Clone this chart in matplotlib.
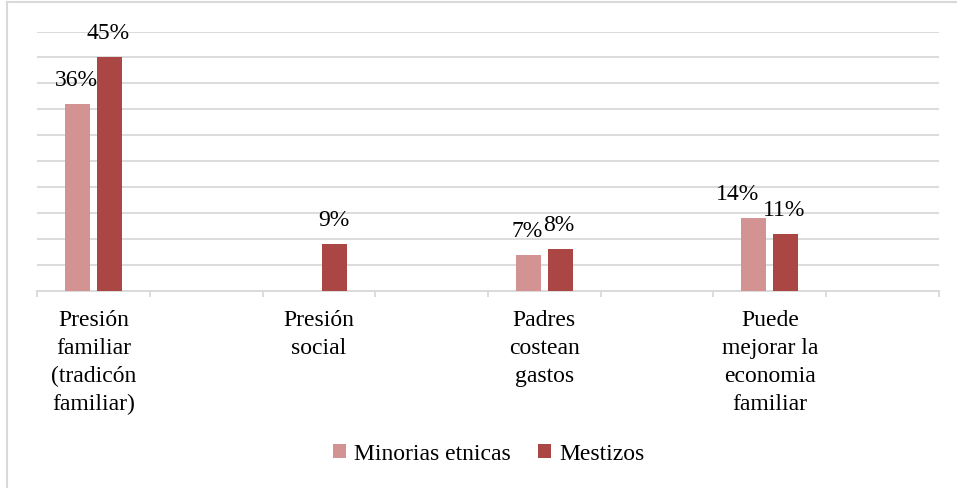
import numpy as np
import matplotlib
matplotlib.use("Agg")
import matplotlib.pyplot as plt
from matplotlib.lines import Line2D

plt.rcParams['font.family'] = ['Liberation Serif', 'DejaVu Serif']

categories = ["Presión\nfamiliar\n(tradicón\nfamiliar)", "Presión\nsocial",
              "Padres\ncostean\ngastos", "Puede\nmejorar la\neconomia\nfamiliar"]
minorias = [36, 0, 7, 14]
mestizos = [45, 9, 8, 11]
series_names = ["Minorias etnicas", "Mestizos"]
colors = ["#D39392", "#AA4644"]

fig = plt.figure(figsize=(9.57, 4.88), dpi=100)
W, H = 957, 488
ax = fig.add_axes([37 / W, 1 - 291 / H, (939 - 37) / W, (291 - 31.5) / H])

# each category takes two slots, the second one is left empty
x = np.arange(len(categories)) * 2
w = 0.22
off = 0.142

ax.bar(x - off, minorias, w, color=colors[0], label=series_names[0], zorder=3)
ax.bar(x + off, mestizos, w, color=colors[1], label=series_names[1], zorder=3)

# data labels (the 14% label sits a little to the left)
for i, v in enumerate(minorias):
    if v:
        dx = -12 if i == 3 else -1
        ax.annotate(f"{v}%", (x[i] - off, v), xytext=(dx, 17), textcoords="offset points",
                    ha="center", va="center", fontsize=17)
for i, v in enumerate(mestizos):
    if v:
        ax.annotate(f"{v}%", (x[i] + off, v), xytext=(-1, 17), textcoords="offset points",
                    ha="center", va="center", fontsize=17)

ax.set_xlim(-0.5, len(categories) * 2 - 0.5)
ax.set_ylim(0, 50)
ax.set_yticks(np.arange(0, 51, 5))
ax.yaxis.grid(True, color="#d9d9d9", linewidth=1.3, zorder=0)
ax.tick_params(axis="y", left=False, labelleft=False)

ax.set_xticks(x)
ax.set_xticklabels(categories, fontsize=17, linespacing=1.42)
ax.set_xticks(np.arange(-0.5, len(categories) * 2, 1), minor=True)
ax.tick_params(axis="x", which="major", length=0, pad=14)
ax.tick_params(axis="x", which="minor", length=4.5, color="#d9d9d9", width=1.3)

for s in ["top", "right", "left"]:
    ax.spines[s].set_visible(False)
ax.spines["bottom"].set_color("#d9d9d9")
ax.spines["bottom"].set_linewidth(1.3)

fig.legend(loc="center", bbox_to_anchor=(489 / W, 1 - 454 / H), ncol=2, frameon=False,
           fontsize=17, handlelength=0.55, handleheight=0.55, handletextpad=0.35,
           columnspacing=1.15)

# chart border (only top and left edges are visible)
fig.add_artist(Line2D([7.5 / W, 1], [1 - 2 / H, 1 - 2 / H], color="#d9d9d9", linewidth=1.5))
fig.add_artist(Line2D([7.5 / W, 7.5 / W], [0, 1 - 2 / H], color="#d9d9d9", linewidth=1.5))

fig.savefig("out.png", dpi=100)
